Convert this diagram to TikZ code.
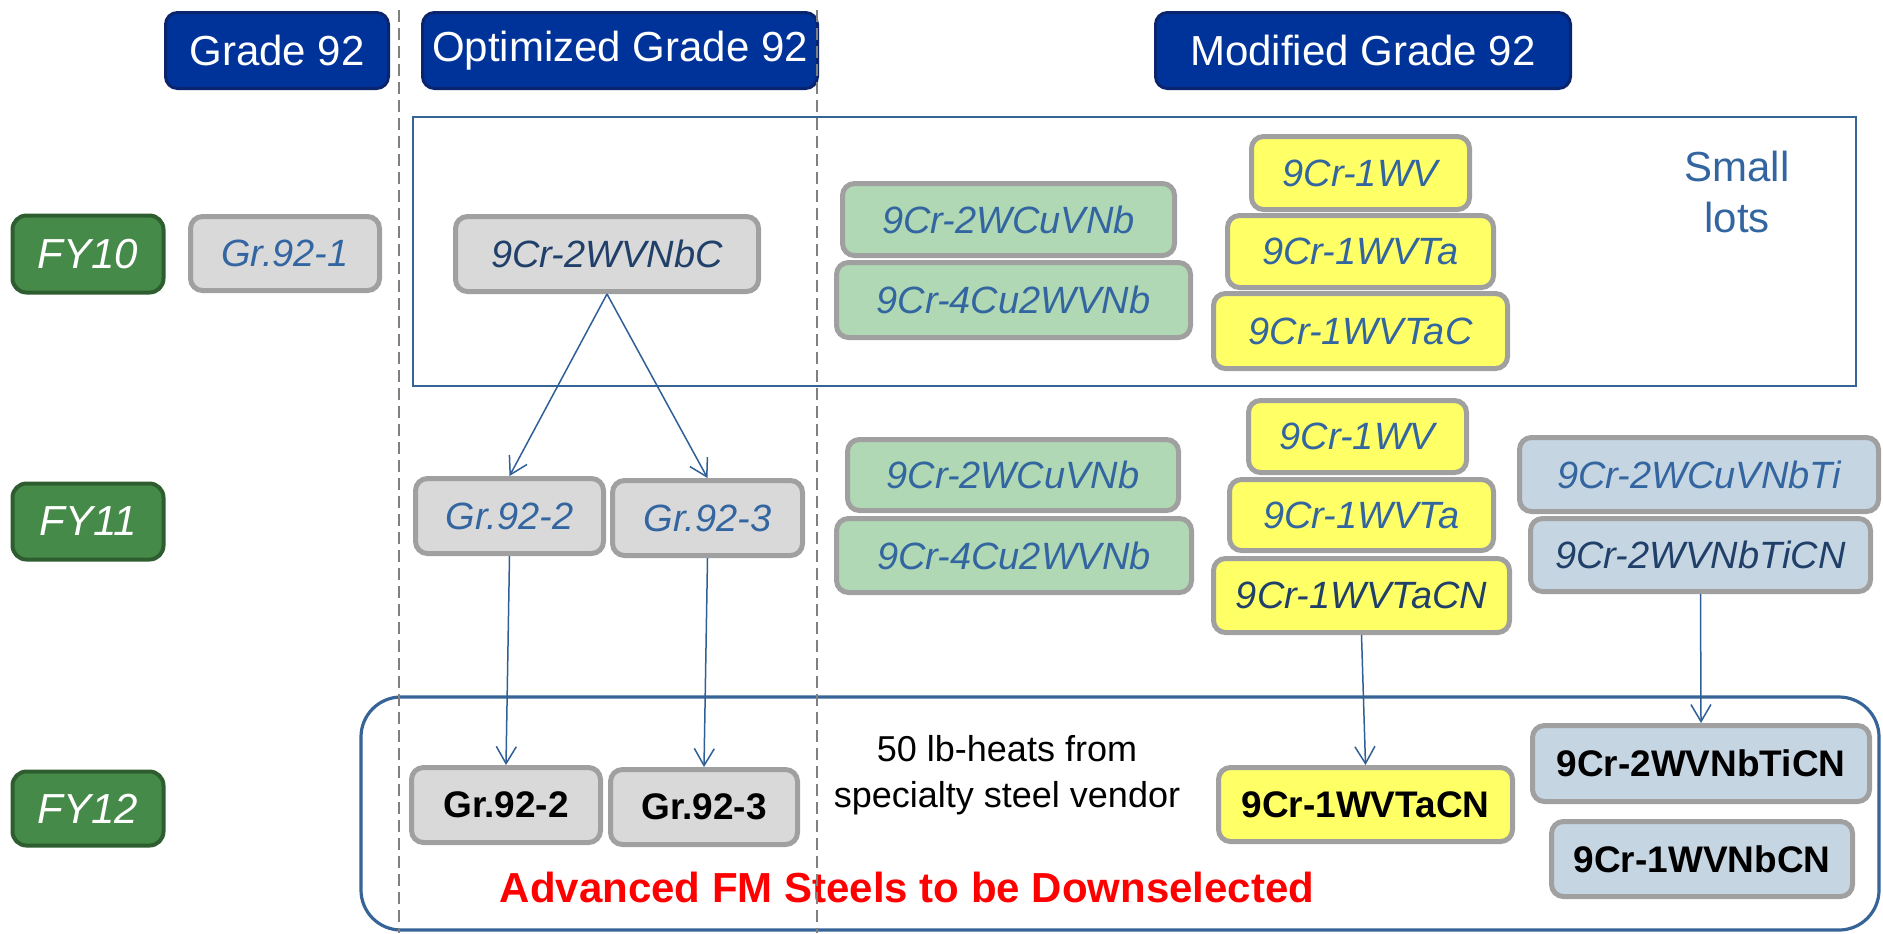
\documentclass[tikz,border=0pt]{standalone}
\usepackage{fontspec}
\setmainfont{Liberation Sans}
\usetikzlibrary{arrows.meta}
\definecolor{hdrfill}{RGB}{0,51,153}
\definecolor{hdrline}{RGB}{10,36,110}
\definecolor{fyfill}{RGB}{70,138,74}
\definecolor{fyline}{RGB}{46,94,48}
\definecolor{grayfill}{RGB}{217,217,217}
\definecolor{boxline}{RGB}{160,160,160}
\definecolor{greenfill}{RGB}{176,216,180}
\definecolor{yellowfill}{RGB}{255,255,102}
\definecolor{bluefill}{RGB}{198,213,226}
\definecolor{lblue}{RGB}{51,102,160}
\definecolor{dblue}{RGB}{32,64,106}
\definecolor{rectblue}{RGB}{54,100,150}
\definecolor{arrowblue}{RGB}{47,95,150}
\definecolor{dashgray}{RGB}{128,128,128}
\newcommand\BoxAt[7]{\node[#6, minimum width={(#4-#2-5)*0.5pt}, minimum height={(#5-#3-5)*0.5pt}] (#1) at ({(#2+#4)/2},{(#3+#5)/2}) {#7};}
\tikzset{
  basebox/.style={draw, rounded corners=6pt, inner sep=0pt, anchor=center},
  hdr/.style={basebox, fill=hdrfill, draw=hdrline, line width=1.5pt, text=white, font=\fontsize{21}{25}\selectfont},
  fy/.style={basebox, fill=fyfill, draw=fyline, line width=2pt, rounded corners=7pt, text=white, font=\fontsize{21}{25}\selectfont\itshape},
  matbox/.style={basebox, draw=boxline, line width=2.5pt, font=\fontsize{19}{23}\selectfont\itshape, text=lblue},
  graybox/.style={matbox, fill=grayfill},
  greenbox/.style={matbox, fill=greenfill},
  yellowbox/.style={matbox, fill=yellowfill},
  bluebox/.style={matbox, fill=bluefill},
  darktext/.style={text=dblue},
  boldtext/.style={font=\fontsize{18.5}{22}\selectfont\bfseries, text=black},
  conn/.style={draw=arrowblue, line width=0.75pt, -{Straight Barb[length=8.5pt,width=10pt,line width=0.75pt]}},
  dashline/.style={draw=dashgray, line width=1pt, dash pattern=on 6pt off 3pt},
  frame/.style={draw=rectblue, line width=1.25pt},
}
\begin{document}
\begin{tikzpicture}[x=0.5pt,y=-0.5pt]
\useasboundingbox (0,0) rectangle (1883,933);
% frames
\draw[frame] (413,117) rectangle (1856,386);
\draw[frame, line width=1.6pt, rounded corners=20pt] (361,697) rectangle (1879,930);
% headers
\BoxAt{hg}{163}{10}{391}{91}{hdr}{Grade 92}
\BoxAt{ho}{420}{10}{820}{91}{hdr}{Optimized Grade 92}
\BoxAt{hm}{1153}{10}{1573}{91}{hdr}{Modified Grade 92}
% FY labels
\BoxAt{fy10}{10}{213}{166}{295}{fy}{FY10}
\BoxAt{fy11}{10}{481}{166}{562}{fy}{FY11}
\BoxAt{fy12}{10}{769}{166}{848}{fy}{FY12}
% FY10 row
\BoxAt{ga}{188}{214}{382}{293}{graybox}{Gr.92-1}
\BoxAt{na}{453}{214}{761}{294}{graybox,darktext}{9Cr-2WVNbC}
\BoxAt{ca}{840}{181}{1177}{258}{greenbox}{9Cr-2WCuVNb}
\BoxAt{cb}{834}{260}{1193}{340}{greenbox}{9Cr-4Cu2WVNb}
\BoxAt{ya}{1249}{134}{1472}{212}{yellowbox}{9Cr-1WV}
\BoxAt{yb}{1225}{213}{1496}{290}{yellowbox}{9Cr-1WVTa}
\BoxAt{yc}{1211}{291}{1510}{371}{yellowbox}{9Cr-1WVTaC}
\node[text=lblue, font=\fontsize{21}{25.5}\selectfont, align=center] (small) at (1737,192) {Small\\lots};
% FY11 row
\BoxAt{gb}{413}{476}{606}{556}{graybox}{Gr.92-2}
\BoxAt{gc}{610}{478}{805}{558}{graybox}{Gr.92-3}
\BoxAt{cc}{845}{437}{1181}{513}{greenbox}{9Cr-2WCuVNb}
\BoxAt{cd}{834}{516}{1194}{595}{greenbox}{9Cr-4Cu2WVNb}
\BoxAt{yd}{1246}{398}{1469}{475}{yellowbox}{9Cr-1WV}
\BoxAt{ye}{1227}{477}{1496}{553}{yellowbox}{9Cr-1WVTa}
\BoxAt{yf}{1211}{556}{1512}{635}{yellowbox,darktext}{9Cr-1WVTaCN}
\BoxAt{ba}{1517}{435}{1881}{514}{bluebox}{9Cr-2WCuVNbTi}
\BoxAt{bb}{1528}{516}{1873}{594}{bluebox,darktext}{9Cr-2WVNbTiCN}
% FY12 row
\BoxAt{gd}{409}{765}{603}{845}{graybox,boldtext}{Gr.92-2}
\BoxAt{ge}{608}{767}{800}{847}{graybox,boldtext}{Gr.92-3}
\node[font=\fontsize{18}{23}\selectfont, align=center, text=black] (heats) at (1007,775) {50 lb-heats from\\specialty steel vendor};
\BoxAt{yg}{1216}{765}{1515}{844}{yellowbox,boldtext}{9Cr-1WVTaCN}
\BoxAt{bc}{1530}{723}{1872}{804}{bluebox,boldtext}{9Cr-2WVNbTiCN}
\BoxAt{bd}{1549}{819}{1855}{899}{bluebox,boldtext}{9Cr-1WVNbCN}
\node[text=red, font=\fontsize{21}{25}\selectfont\bfseries] (adv) at (907,887) {Advanced FM Steels to be Downselected};
% connectors
\draw[conn] (na.south) -- (gb.north);
\draw[conn] (na.south) -- (gc.north);
\draw[conn] (gb.south) -- (gd.north);
\draw[conn] (gc.south) -- (ge.north);
\draw[conn] (yf.south) -- (yg.north);
\draw[conn] (bb.south) -- (bc.north);
% dashed separators
\coordinate (d1t) at (399,10);
\coordinate (d1b) at (399,933);
\coordinate (d2t) at (817,10);
\coordinate (d2b) at (817,933);
\draw[dashline] (d1t) -- (d1b);
\draw[dashline] (d2t) -- (d2b);
\end{tikzpicture}
\end{document}
